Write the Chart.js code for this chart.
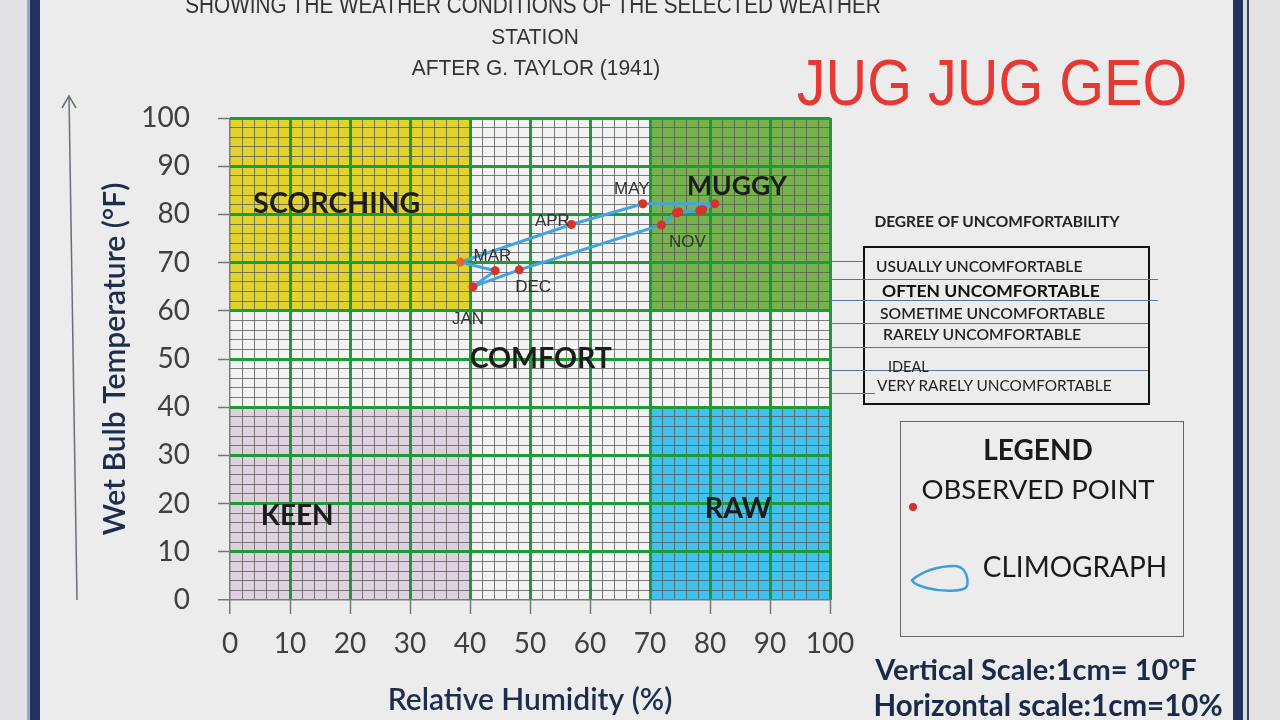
<!DOCTYPE html>
<html>
<head>
<meta charset="utf-8">
<script src="https://cdn.jsdelivr.net/npm/chart.js"></script>
<style>
  body { margin: 0; background: #ebebeb; }
  #wrap { position: relative; width: 1280px; height: 720px; overflow: hidden; background: #ececec; }
  #chart { position: absolute; left: 0; top: 0; }
  .t { position: absolute; white-space: nowrap; transform: translate(-50%, -50%); line-height: 1; }
  .n { transform: translate(-50%, -50%) scaleX(0.9); }
  .m { transform: translate(-50%, -50%) scaleX(0.95); }
  .l { position: absolute; white-space: nowrap; line-height: 1; }
  .hl { position: absolute; height: 1px; background: #5b7396; }
</style>
</head>
<body>
<div id="wrap">
  <div style="position:absolute;left:0;top:0;width:27px;height:720px;background:#e2e2e4"></div>
  <div style="position:absolute;left:27px;top:0;width:3px;height:720px;background:#9aa8c4"></div>
  <div style="position:absolute;left:30px;top:0;width:10px;height:720px;background:#22335f"></div>
  <div style="position:absolute;left:1233px;top:0;width:10px;height:720px;background:#22335f"></div>
  <div style="position:absolute;left:1243px;top:0;width:4px;height:720px;background:#d8dde6"></div>
  <div style="position:absolute;left:1247px;top:0;width:2px;height:720px;background:#3a4256"></div>
  <div style="position:absolute;left:1249px;top:0;width:31px;height:720px;background:#e3e3e3"></div>

  <canvas id="chart" width="1280" height="720"></canvas>

  <div class="t n" style="left:533px;top:5px;font:23px 'Liberation Sans',sans-serif;color:#333">SHOWING THE WEATHER CONDITIONS OF THE SELECTED WEATHER</div>
  <div class="t m" style="left:535px;top:37px;font:22px 'Liberation Sans',sans-serif;color:#333">STATION</div>
  <div class="t m" style="left:536px;top:68px;font:22px 'Liberation Sans',sans-serif;color:#333">AFTER G. TAYLOR (1941)</div>
  <div class="t" style="left:992px;top:83px;font:64px 'Liberation Sans',sans-serif;color:#e53a33;transform:translate(-50%,-50%) scaleX(0.9)">JUG JUG GEO</div>

  <svg style="position:absolute;left:0;top:0" width="1280" height="720">
    <line x1="69" y1="97" x2="77" y2="600" stroke="#6a6f7a" stroke-width="1.5"/>
    <polyline points="62,108 69,96 76,108" fill="none" stroke="#6a6f7a" stroke-width="1.5"/>
    <circle cx="913" cy="507" r="4" fill="#d3312a"/>
    <path d="M912 580 C 922 572, 937 566, 955 566 C 965 566, 969 578, 967 586 C 965 592, 942 592, 927 588 C 919 586, 913 583, 912 580 Z" fill="none" stroke="#3aa0dc" stroke-width="2.5"/>
  </svg>

  <div class="t" style="left:997px;top:221px;font:bold 15.5px Lato,sans-serif;color:#222">DEGREE OF UNCOMFORTABILITY</div>
  <div style="position:absolute;left:863px;top:246px;width:283px;height:155px;border:2px solid #111"></div>
  <div class="hl" style="left:830px;top:261px;width:33px"></div>
  <div class="hl" style="left:830px;top:279px;width:328px"></div>
  <div class="hl" style="left:830px;top:300px;width:328px"></div>
  <div class="hl" style="left:830px;top:323px;width:318px"></div>
  <div class="hl" style="left:830px;top:347px;width:318px"></div>
  <div class="hl" style="left:830px;top:370px;width:318px"></div>
  <div class="hl" style="left:830px;top:393px;width:45px"></div>
  <div class="l" style="left:876px;top:257px;font:15.5px Lato,sans-serif;color:#222;font-weight:600">USUALLY UNCOMFORTABLE</div>
  <div class="l" style="left:882px;top:280px;font:bold 17.5px Lato,sans-serif;color:#111">OFTEN UNCOMFORTABLE</div>
  <div class="l" style="left:880px;top:304px;font:15.7px Lato,sans-serif;color:#222;font-weight:600">SOMETIME UNCOMFORTABLE</div>
  <div class="l" style="left:883px;top:325px;font:15.7px Lato,sans-serif;color:#222;font-weight:600">RARELY UNCOMFORTABLE</div>
  <div class="l" style="left:888px;top:358px;font:14.5px Lato,sans-serif;color:#222">IDEAL</div>
  <div class="l" style="left:877px;top:376px;font:15.4px Lato,sans-serif;color:#222">VERY RARELY UNCOMFORTABLE</div>

  <div style="position:absolute;left:900px;top:421px;width:282px;height:214px;border:1px solid #666"></div>
  <div class="t" style="left:1038px;top:449px;font:bold 28px Lato,sans-serif;color:#1a1a1a">LEGEND</div>
  <div class="t" style="left:1038px;top:488px;font:27.5px Lato,sans-serif;color:#1a1a1a">OBSERVED POINT</div>
  <div class="t" style="left:1075px;top:566px;font:28px Lato,sans-serif;color:#1a1a1a">CLIMOGRAPH</div>
  <div class="t" style="left:1036px;top:668px;font:bold 29px Lato,sans-serif;color:#1c2a4a">Vertical Scale:1cm= 10°F</div>
  <div class="t" style="left:1048px;top:704px;font:bold 29.5px Lato,sans-serif;color:#1c2a4a">Horizontal scale:1cm=10%</div>
</div>

<script>
// monthly observations
const months = ['JAN', 'FEB', 'MAR', 'APR', 'MAY', 'JUN', 'JUL', 'AUG', 'SEP', 'OCT', 'NOV', 'DEC'];
const humidity = [40.5, 44.2, 38.4, 56.9, 68.8, 80.8, 78.8, 74.8, 78.3, 74.4, 71.9, 48.2];
const wetBulb = [65.0, 68.3, 70.1, 77.9, 82.2, 82.2, 81.0, 80.5, 80.8, 80.3, 77.8, 68.5];
const shownMonths = ['JAN', 'MAR', 'APR', 'MAY', 'NOV', 'DEC'];

// tick labels
const xTicks = [0, 10, 20, 30, 40, 50, 60, 70, 80, 90, 100];
const yTicks = [0, 10, 20, 30, 40, 50, 60, 70, 80, 90, 100];

// Taylor zones
const zoneNames = ['SCORCHING', 'MUGGY', 'KEEN', 'RAW'];
const zoneXMin = [0, 70, 0, 70];
const zoneXMax = [40, 100, 40, 100];
const zoneYMin = [60, 60, 0, 0];
const zoneYMax = [100, 100, 40, 40];

const zoneColors = ['#e2d22e', '#78b24f', '#ddd0df', '#41c1ee'];
// where the zone names sit (data units) and their font size
const zoneLabelPos = {
    SCORCHING: [17.8, 82.1, 28.5],
    MUGGY: [84.5, 85.9, 26.5],
    COMFORT: [51.8, 50.1, 28.5],
    KEEN: [11.2, 17.5, 28],
    RAW: [84.7, 18.9, 28.5]
};
// pixel offsets of month labels from their points
const monthLabelOff = {
    JAN: [-5, 33], MAR: [32, -6], APR: [-19, -3], MAY: [-11, -14], NOV: [26, 17], DEC: [14, 17]
};

const loop = months.map((m, i) => ({ x: humidity[i], y: wetBulb[i] }));
loop.push({ x: humidity[0], y: wetBulb[0] });

const GREEN = '#1f9a38';
const MINOR = 'rgba(85,85,85,0.75)';

const zonesPlugin = {
    id: 'zones',
    beforeDraw(chart) {
        const { ctx, chartArea, scales: { x, y } } = chart;
        ctx.save();
        ctx.fillStyle = '#f3f3f3';
        ctx.fillRect(chartArea.left, chartArea.top, chartArea.right - chartArea.left, chartArea.bottom - chartArea.top);
        zoneNames.forEach((z, i) => {
            const x0 = x.getPixelForValue(zoneXMin[i]);
            const x1 = x.getPixelForValue(zoneXMax[i]);
            const y0 = y.getPixelForValue(zoneYMax[i]);
            const y1 = y.getPixelForValue(zoneYMin[i]);
            ctx.fillStyle = zoneColors[i];
            ctx.fillRect(x0, y0, x1 - x0, y1 - y0);
        });
        ctx.restore();
    },
    afterDatasetsDraw(chart) {
        const { ctx, scales: { x, y } } = chart;
        ctx.save();
        ctx.textAlign = 'center';
        ctx.textBaseline = 'middle';
        ctx.fillStyle = '#1c1c1c';
        Object.keys(zoneLabelPos).forEach(k => {
            const p = zoneLabelPos[k];
            ctx.font = 'bold ' + p[2] + 'px Lato, sans-serif';
            ctx.fillText(k, x.getPixelForValue(p[0]), y.getPixelForValue(p[1]));
        });
        ctx.font = '17px "Liberation Sans", sans-serif';
        ctx.fillStyle = '#333';
        months.forEach((m, i) => {
            if (!shownMonths.includes(m)) return;
            const off = monthLabelOff[m];
            ctx.fillText(m, x.getPixelForValue(humidity[i]) + off[0], y.getPixelForValue(wetBulb[i]) + off[1]);
        });
        ctx.restore();
    }
};

function gridColor(ctx) {
    const v = ctx.tick.value;
    if (v === 0) return '#7a7a7a';
    return v % 10 === 0 ? GREEN : MINOR;
}
function gridWidth(ctx) {
    const v = ctx.tick.value;
    if (v === 0) return 1.5;
    return v % 10 === 0 ? 3 : 1;
}
function tickColor(ctx) {
    return ctx.tick.value % 10 === 0 ? '#777' : 'rgba(0,0,0,0)';
}

new Chart(document.getElementById('chart'), {
    type: 'scatter',
    data: {
        datasets: [{
            label: 'Climograph',
            data: loop,
            showLine: true,
            borderColor: '#45a3e3',
            borderWidth: 3,
            pointRadius: loop.map((p, i) => i === months.length ? 0 : 4.5),
            pointBackgroundColor: loop.map((p, i) => months[i] === 'MAR' ? '#e0682c' : '#d3342c'),
            pointBorderWidth: 0
        }]
    },
    options: {
        responsive: false,
        animation: false,
        layout: { padding: { left: 97, top: 118, right: 450, bottom: 0 } },
        plugins: { legend: { display: false }, tooltip: { enabled: false } },
        scales: {
            x: {
                type: 'linear', min: 0, max: 100,
                afterFit(scale) { scale.height = 120; },
                border: { display: false },
                grid: { color: gridColor, lineWidth: gridWidth, tickLength: 14, tickColor: tickColor, tickWidth: 1.5 },
                ticks: {
                    stepSize: 2, autoSkip: false, maxRotation: 0, padding: 13,
                    color: '#404040', font: { family: 'Lato', size: 28 },
                    callback: v => xTicks.includes(v) ? String(v) : ''
                },
                title: {
                    display: true, text: 'Relative Humidity (%)', color: '#1f2d4d',
                    font: { family: 'Lato', size: 30, weight: '600' }, padding: { top: 0, bottom: 2 }
                }
            },
            y: {
                type: 'linear', min: 0, max: 100,
                afterFit(scale) { scale.width = 133; },
                border: { display: false },
                grid: { color: gridColor, lineWidth: gridWidth, tickLength: 12, tickColor: tickColor, tickWidth: 1.5 },
                ticks: {
                    stepSize: 2, autoSkip: false, padding: 28,
                    color: '#404040', font: { family: 'Lato', size: 28 },
                    callback: v => yTicks.includes(v) ? String(v) : ''
                },
                title: {
                    display: true, text: 'Wet Bulb Temperature (°F)', color: '#1f2d4d',
                    font: { family: 'Lato', size: 30, weight: '600' }, padding: { top: 0, bottom: 0 }
                }
            }
        }
    },
    plugins: [zonesPlugin]
});
</script>
</body>
</html>
